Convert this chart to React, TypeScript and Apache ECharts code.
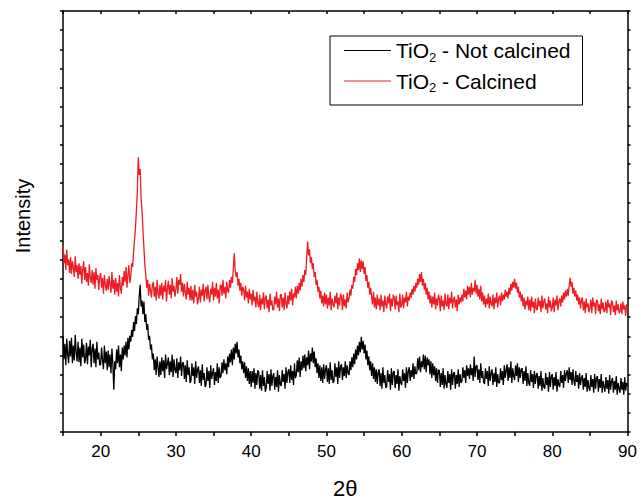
import React, { useEffect, useRef } from "react";
import * as echarts from "echarts";

// 2θ sampling grid: from 15° in steps of 0.125°
const X_START = 15;
const X_STEP = 0.125;

// Intensity (arbitrary units), 8 readings per degree
const calcined: number[] = [
  190, 172, 181, 165, 186, 170, 176, 162, // 15
  178, 161, 174, 168, 158, 179, 163, 170, // 16
  156, 172, 160, 169, 151, 166, 174, 155, // 17
  168, 153, 162, 149, 171, 157, 152, 165, // 18
  150, 163, 146, 167, 155, 160, 145, 158, // 19
  162, 147, 157, 141, 160, 150, 144, 156, // 20
  145, 159, 150, 142, 163, 146, 155, 140, // 21
  157, 143, 152, 138, 160, 147, 141, 158, // 22
  149, 164, 153, 168, 147, 160, 170, 152, // 23
  158, 172, 168, 183, 195, 208, 225, 245, // 24
  280, 262, 268, 238, 226, 205, 188, 170, // 25
  160, 147, 155, 139, 151, 144, 137, 150, // 26
  153, 138, 148, 134, 155, 141, 136, 150, // 27
  139, 152, 135, 149, 143, 155, 133, 146, // 28
  154, 140, 150, 136, 157, 143, 149, 138, // 29
  145, 158, 141, 155, 150, 161, 143, 152, // 30
  138, 151, 142, 135, 153, 140, 147, 134, // 31
  149, 134, 145, 131, 150, 138, 143, 130, // 32
  136, 148, 132, 145, 139, 151, 133, 144, // 33
  148, 135, 150, 138, 132, 146, 140, 153, // 34
  134, 147, 138, 152, 136, 145, 131, 149, // 35
  150, 139, 155, 141, 148, 136, 153, 144, // 36
  142, 155, 147, 158, 152, 166, 182, 165, // 37
  158, 163, 149, 156, 144, 152, 139, 148, // 38
  145, 134, 149, 137, 143, 131, 146, 135, // 39
  141, 129, 145, 133, 138, 127, 143, 131, // 40
  127, 140, 124, 136, 130, 142, 125, 137, // 41
  139, 126, 135, 122, 141, 129, 134, 124, // 42
  125, 138, 130, 143, 127, 136, 123, 140, // 43
  140, 127, 137, 124, 142, 131, 126, 139, // 44
  130, 143, 134, 146, 129, 141, 137, 148, // 45
  136, 149, 141, 152, 144, 156, 148, 160, // 46
  153, 165, 160, 178, 194, 180, 186, 172, // 47
  178, 166, 172, 158, 163, 150, 155, 143, // 48
  148, 136, 144, 131, 139, 128, 142, 130, // 49
  140, 126, 137, 129, 143, 124, 136, 130, // 50
  127, 139, 131, 142, 125, 137, 129, 141, // 51
  138, 124, 140, 128, 135, 126, 142, 132, // 52
  136, 145, 139, 150, 146, 158, 153, 166, // 53
  160, 172, 165, 177, 163, 175, 166, 174, // 54
  161, 168, 154, 160, 147, 153, 140, 147, // 55
  138, 130, 143, 127, 137, 125, 140, 129, // 56
  136, 124, 140, 128, 134, 122, 139, 130, // 57
  126, 138, 131, 141, 123, 136, 128, 140, // 58
  137, 125, 139, 129, 133, 122, 141, 127, // 59
  129, 140, 126, 137, 132, 143, 128, 138, // 60
  134, 142, 137, 146, 140, 149, 143, 152, // 61
  147, 156, 150, 161, 153, 163, 149, 156, // 62
  145, 152, 140, 147, 135, 143, 131, 139, // 63
  127, 138, 130, 142, 125, 136, 129, 140, // 64
  136, 123, 139, 128, 134, 124, 141, 130, // 65
  128, 140, 125, 137, 131, 143, 126, 135, // 66
  138, 127, 135, 123, 140, 130, 137, 132, // 67
  140, 133, 146, 137, 144, 135, 149, 140, // 68
  148, 137, 152, 140, 147, 143, 155, 141, // 69
  150, 138, 146, 135, 149, 133, 142, 130, // 70
  139, 127, 136, 130, 141, 126, 138, 131, // 71
  128, 140, 125, 137, 131, 142, 127, 136, // 72
  139, 129, 142, 133, 140, 135, 145, 138, // 73
  143, 136, 147, 140, 151, 144, 153, 147, // 74
  156, 146, 152, 142, 148, 137, 143, 133, // 75
  140, 128, 137, 125, 134, 129, 138, 124, // 76
  135, 123, 138, 127, 133, 121, 136, 126, // 77
  124, 137, 128, 134, 122, 139, 126, 133, // 78
  136, 125, 131, 121, 138, 127, 134, 123, // 79
  127, 137, 122, 135, 129, 139, 124, 133, // 80
  136, 128, 139, 132, 142, 135, 144, 138, // 81
  146, 139, 150, 157, 148, 153, 141, 147, // 82
  138, 144, 134, 140, 130, 137, 126, 134, // 83
  137, 124, 133, 121, 136, 127, 131, 122, // 84
  126, 135, 121, 137, 128, 132, 120, 134, // 85
  134, 123, 130, 120, 136, 125, 132, 122, // 86
  124, 133, 121, 135, 127, 131, 119, 134, // 87
  132, 122, 129, 119, 134, 124, 130, 121, // 88
  123, 131, 120, 133, 125, 129, 118, 130, // 89
  125, // 90
];

const notCalcined: number[] = [
  98, 74, 90, 68, 95, 79, 70, 93, // 15
  77, 96, 70, 88, 73, 99, 81, 72, // 16
  92, 71, 86, 67, 95, 76, 89, 70, // 17
  74, 91, 69, 87, 78, 94, 66, 85, // 18
  90, 70, 85, 66, 92, 74, 81, 68, // 19
  69, 86, 73, 64, 88, 70, 82, 63, // 20
  83, 66, 79, 60, 85, 69, 43, 72, // 21
  64, 84, 70, 88, 66, 79, 62, 86, // 22
  74, 88, 78, 92, 76, 96, 84, 98, // 23
  92, 104, 97, 112, 103, 118, 110, 126, // 24
  120, 138, 150, 128, 134, 120, 133, 112, // 25
  120, 104, 110, 94, 98, 84, 89, 74, // 26
  80, 63, 74, 58, 77, 66, 56, 72, // 27
  58, 76, 62, 73, 55, 79, 64, 70, // 28
  76, 58, 72, 61, 79, 56, 74, 63, // 29
  60, 75, 55, 71, 63, 77, 57, 70, // 30
  71, 54, 68, 51, 73, 58, 66, 50, // 31
  52, 70, 57, 66, 49, 72, 55, 64, // 32
  67, 50, 63, 47, 69, 53, 60, 46, // 33
  48, 66, 52, 62, 45, 68, 54, 60, // 34
  65, 48, 61, 52, 70, 50, 66, 55, // 35
  57, 71, 60, 74, 63, 70, 59, 77, // 36
  66, 80, 71, 84, 68, 86, 74, 90, // 37
  80, 92, 76, 84, 70, 78, 64, 72, // 38
  60, 71, 55, 67, 52, 65, 49, 62, // 39
  46, 62, 50, 65, 44, 60, 48, 63, // 40
  61, 44, 58, 42, 63, 47, 56, 41, // 41
  45, 62, 49, 59, 42, 64, 47, 57, // 42
  60, 43, 56, 46, 63, 41, 58, 48, // 43
  47, 63, 51, 59, 44, 66, 50, 61, // 44
  64, 50, 68, 53, 62, 48, 70, 55, // 45
  58, 73, 61, 76, 56, 72, 63, 78, // 46
  65, 79, 62, 76, 68, 83, 64, 80, // 47
  72, 86, 70, 82, 66, 75, 60, 70, // 48
  55, 68, 52, 66, 50, 69, 54, 64, // 49
  68, 51, 65, 49, 71, 53, 63, 50, // 50
  52, 70, 56, 66, 49, 72, 55, 67, // 51
  69, 53, 66, 57, 72, 55, 68, 60, // 52
  58, 72, 63, 76, 66, 80, 69, 84, // 53
  74, 88, 78, 92, 81, 97, 84, 93, // 54
  80, 89, 74, 83, 68, 77, 63, 72, // 55
  57, 70, 54, 66, 51, 64, 49, 61, // 56
  64, 47, 60, 44, 66, 50, 58, 45, // 57
  46, 63, 51, 59, 43, 65, 48, 61, // 58
  62, 45, 58, 49, 64, 42, 57, 50, // 59
  48, 64, 52, 60, 45, 66, 50, 62, // 60
  66, 52, 63, 56, 70, 54, 67, 59, // 61
  60, 75, 63, 77, 61, 72, 66, 79, // 62
  64, 78, 61, 76, 68, 74, 59, 72, // 63
  55, 70, 58, 67, 52, 65, 50, 63, // 64
  63, 46, 60, 48, 65, 44, 58, 49, // 65
  45, 62, 50, 59, 43, 64, 48, 60, // 66
  61, 44, 58, 49, 64, 46, 59, 50, // 67
  52, 66, 55, 63, 50, 68, 57, 65, // 68
  54, 69, 58, 65, 52, 77, 56, 67, // 69
  68, 53, 64, 50, 70, 55, 62, 51, // 70
  49, 65, 54, 62, 47, 67, 52, 60, // 71
  64, 48, 60, 51, 66, 46, 59, 50, // 72
  50, 65, 53, 62, 48, 68, 55, 63, // 73
  69, 52, 66, 55, 72, 50, 65, 57, // 74
  53, 68, 57, 70, 51, 66, 55, 64, // 75
  65, 49, 62, 52, 67, 47, 60, 50, // 76
  47, 63, 51, 59, 45, 62, 49, 58, // 77
  60, 44, 57, 47, 62, 42, 55, 46, // 78
  44, 60, 48, 56, 41, 61, 46, 57, // 79
  59, 43, 56, 47, 61, 41, 54, 48, // 80
  46, 62, 50, 58, 45, 63, 52, 60, // 81
  63, 50, 66, 53, 61, 48, 64, 52, // 82
  47, 62, 51, 58, 44, 60, 48, 55, // 83
  58, 43, 55, 46, 60, 41, 53, 45, // 84
  42, 58, 46, 54, 40, 59, 44, 55, // 85
  57, 41, 54, 45, 59, 40, 52, 46, // 86
  41, 56, 44, 53, 39, 58, 43, 52, // 87
  55, 40, 52, 43, 57, 38, 50, 44, // 88
  40, 55, 43, 51, 38, 56, 42, 50, // 89
  47, // 90
];

const X_MIN = 15;
const X_MAX = 90;
const X_TICK = 5;
const Y_MIN = 0;
const Y_MAX = 429;
const Y_TICK = 19.5;

const SERIES_NAMES = ["TiO2 - Not calcined", "TiO2 - Calcined"];
const LEGEND_RICH = ["{t|TiO}{s|2}{t| - Not calcined}", "{t|TiO}{s|2}{t| - Calcined}"];
const COLORS = ["#000000", "#ee1c24"];

const FONT = "Liberation Sans, Arial, sans-serif";

export default function App() {
  const ref = useRef<HTMLDivElement>(null);

  useEffect(() => {
    if (!ref.current) return;
    const chart = echarts.init(ref.current, undefined, { renderer: "svg" });
    const toPairs = (arr: number[]) => arr.map((v, i) => [X_START + i * X_STEP, v]);

    const tickLabel = (v: number) => (v % 10 === 0 ? String(v) : "");

    chart.setOption({
      animation: false,
      backgroundColor: "#ffffff",
      grid: { left: 63, right: 10, top: 11, bottom: 64, containLabel: false },
      legend: {
        left: 330,
        top: 36,
        orient: "vertical",
        borderColor: "#000",
        borderWidth: 1,
        padding: [4, 12, 11, 14],
        icon: "rect",
        itemWidth: 47,
        itemHeight: 1,
        itemGap: 7,
        data: SERIES_NAMES,
        formatter: (name: string) => LEGEND_RICH[SERIES_NAMES.indexOf(name)],
        textStyle: {
          color: "#000",
          fontFamily: FONT,
          rich: {
            t: { fontSize: 21, lineHeight: 26, fontFamily: FONT, color: "#000" },
            s: { fontSize: 13, lineHeight: 6, verticalAlign: "bottom", fontFamily: FONT, color: "#000" },
          },
        },
      },
      xAxis: [
        {
          type: "value",
          min: X_MIN,
          max: X_MAX,
          interval: X_TICK,
          position: "bottom",
          name: "2θ",
          nameLocation: "middle",
          nameGap: 45,
          nameTextStyle: { fontSize: 22, fontFamily: FONT, color: "#000" },
          axisLine: { show: true, lineStyle: { color: "#000", width: 1.5 } },
          axisTick: { show: true, inside: false, length: 4, lineStyle: { color: "#000", width: 1.5 } },
          axisLabel: { formatter: tickLabel, fontSize: 17, fontFamily: FONT, color: "#000", margin: 11, showMaxLabel: true, showMinLabel: true },
          splitLine: { show: false },
        },
        {
          type: "value",
          min: X_MIN,
          max: X_MAX,
          interval: X_TICK,
          position: "top",
          axisLine: { show: true, onZero: false, lineStyle: { color: "#000", width: 1.5 } },
          axisTick: { show: true, inside: true, length: 3, lineStyle: { color: "#000", width: 1.5 } },
          axisLabel: { show: false },
          splitLine: { show: false },
        },
      ],
      yAxis: [
        {
          type: "value",
          min: Y_MIN,
          max: Y_MAX,
          interval: Y_TICK,
          position: "left",
          axisLine: { show: true, onZero: false, lineStyle: { color: "#000", width: 1.5 } },
          axisTick: { show: true, inside: false, length: 3, lineStyle: { color: "#000", width: 1.5 } },
          axisLabel: { show: false },
          splitLine: { show: false },
        },
        {
          type: "value",
          min: Y_MIN,
          max: Y_MAX,
          interval: Y_TICK,
          position: "right",
          axisLine: { show: true, onZero: false, lineStyle: { color: "#000", width: 1.5 } },
          axisTick: { show: true, inside: false, length: 3, lineStyle: { color: "#000", width: 1.5 } },
          axisLabel: { show: false },
          splitLine: { show: false },
        },
      ],
      graphic: [
        {
          type: "text",
          x: 23,
          y: 216,
          rotation: Math.PI / 2,
          style: {
            text: "Intensity",
            font: `20px ${FONT}`,
            fill: "#000",
            align: "center",
            verticalAlign: "middle",
          },
        },
      ],
      series: [
        {
          name: SERIES_NAMES[0],
          type: "line",
          xAxisIndex: 0,
          yAxisIndex: 0,
          data: toPairs(notCalcined),
          symbol: "none",
          showSymbol: false,
          lineStyle: { color: COLORS[0], width: 1.3 },
          itemStyle: { color: COLORS[0] },
        },
        {
          name: SERIES_NAMES[1],
          type: "line",
          xAxisIndex: 0,
          yAxisIndex: 0,
          data: toPairs(calcined),
          symbol: "none",
          showSymbol: false,
          lineStyle: { color: COLORS[1], width: 1.3 },
          itemStyle: { color: COLORS[1] },
        },
      ],
    });

    return () => chart.dispose();
  }, []);

  return (
    <div
      ref={ref}
      style={{ position: "fixed", left: 0, top: 0, width: 640, height: 504, background: "#fff" }}
    />
  );
}
